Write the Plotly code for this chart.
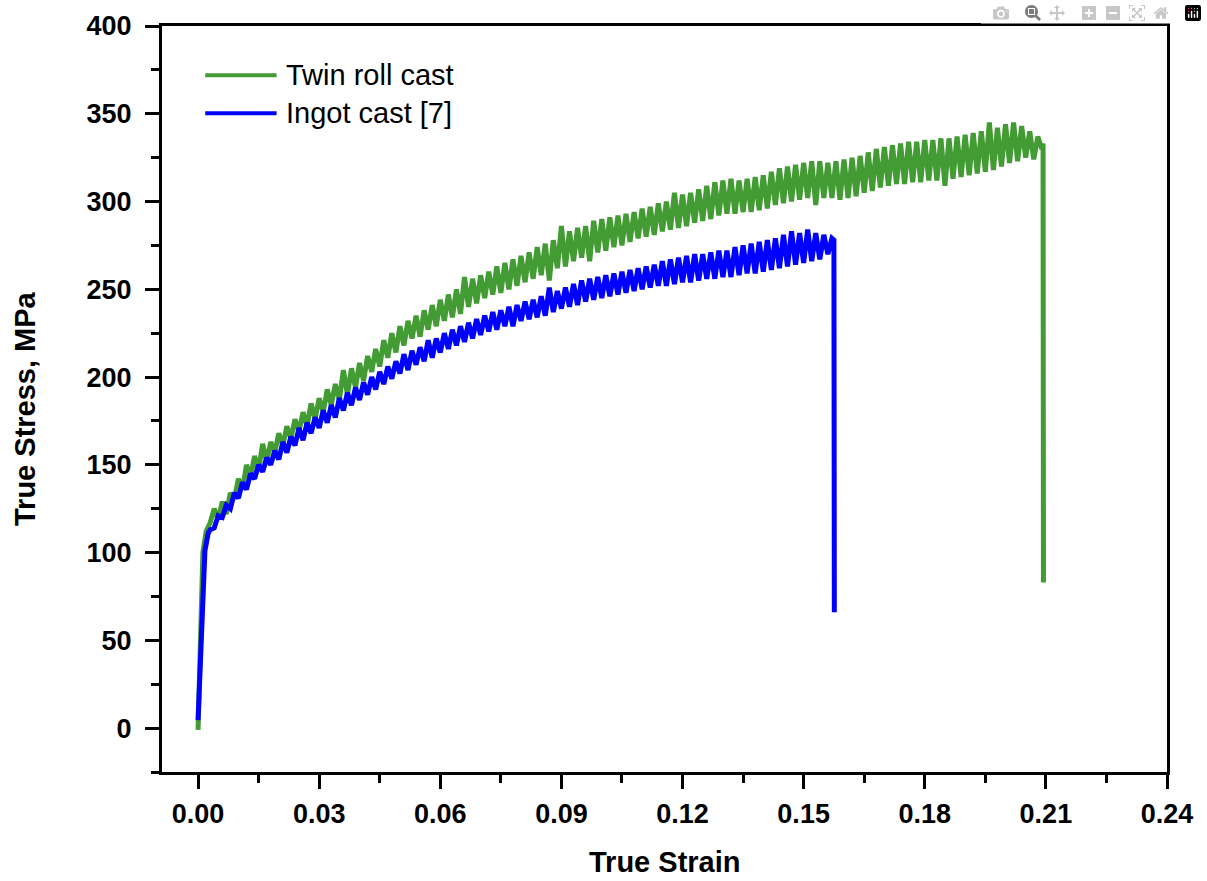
import plotly.graph_objects as go

# ---------------- data ----------------
twin_strain = [
    0.0, 0.0006, 0.0012, 0.002,
    0.003, 0.004, 0.005, 0.006, 0.007, 0.008, 0.009, 0.010, 0.011, 0.012,
    0.013, 0.014, 0.015, 0.016, 0.017, 0.018, 0.019, 0.020, 0.021, 0.022,
    0.023, 0.024, 0.025, 0.026, 0.027, 0.028, 0.029, 0.030, 0.031, 0.032,
    0.033, 0.034, 0.035, 0.036, 0.037, 0.038, 0.039, 0.040, 0.041, 0.042,
    0.043, 0.044, 0.045, 0.046, 0.047, 0.048, 0.049, 0.050, 0.051, 0.052,
    0.053, 0.054, 0.055, 0.056, 0.057, 0.058, 0.059, 0.060, 0.061, 0.062,
    0.063, 0.064, 0.065, 0.066, 0.067, 0.068, 0.069, 0.070, 0.071, 0.072,
    0.073, 0.074, 0.075, 0.076, 0.077, 0.078, 0.079, 0.080, 0.081, 0.082,
    0.083, 0.084, 0.085, 0.086, 0.087, 0.088, 0.089, 0.090, 0.091, 0.092,
    0.093, 0.094, 0.095, 0.096, 0.097, 0.098, 0.099, 0.100, 0.101, 0.102,
    0.103, 0.104, 0.105, 0.106, 0.107, 0.108, 0.109, 0.110, 0.111, 0.112,
    0.113, 0.114, 0.115, 0.116, 0.117, 0.118, 0.119, 0.120, 0.121, 0.122,
    0.123, 0.124, 0.125, 0.126, 0.127, 0.128, 0.129, 0.130, 0.131, 0.132,
    0.133, 0.134, 0.135, 0.136, 0.137, 0.138, 0.139, 0.140, 0.141, 0.142,
    0.143, 0.144, 0.145, 0.146, 0.147, 0.148, 0.149, 0.150, 0.151, 0.152,
    0.153, 0.154, 0.155, 0.156, 0.157, 0.158, 0.159, 0.160, 0.161, 0.162,
    0.163, 0.164, 0.165, 0.166, 0.167, 0.168, 0.169, 0.170, 0.171, 0.172,
    0.173, 0.174, 0.175, 0.176, 0.177, 0.178, 0.179, 0.180, 0.181, 0.182,
    0.183, 0.184, 0.185, 0.186, 0.187, 0.188, 0.189, 0.190, 0.191, 0.192,
    0.193, 0.194, 0.195, 0.196, 0.197, 0.198, 0.199, 0.200, 0.201, 0.202,
    0.203, 0.204, 0.205, 0.206, 0.207, 0.208, 0.209,
    0.2093, 0.2094,
]
twin_stress = [
    -1, 50, 100, 112,
    117, 125, 119, 129, 122, 134, 131, 142, 136, 150,
    143, 155, 147, 162, 152, 163, 157, 168, 161, 172,
    165, 176, 169, 180, 172, 185, 176, 188, 180, 193,
    184, 196, 187, 204, 190, 205, 194, 208, 198, 212,
    203, 216, 206, 221, 211, 225, 214, 229, 218, 232,
    222, 235, 223, 238, 227, 241, 229, 244, 232, 247,
    234, 250, 236, 257, 240, 256, 242, 258, 245, 260,
    247, 263, 248, 265, 250, 267, 252, 269, 254, 271,
    256, 274, 258, 276, 255, 278, 262, 286, 263, 283,
    266, 285, 268, 286, 266, 289, 271, 290, 272, 291,
    274, 292, 275, 293, 277, 294, 279, 296, 280, 297,
    281, 299, 283, 300, 284, 305, 285, 304, 286, 305,
    288, 307, 289, 309, 290, 311, 292, 312, 293, 313,
    293, 312, 294, 313, 294, 314, 295, 315, 296, 317,
    298, 319, 299, 320, 300, 321, 301, 322, 302, 323,
    298, 323, 302, 322, 302, 323, 301, 324, 302, 325,
    303, 326, 305, 328, 306, 330, 308, 331, 309, 332,
    310, 333, 310, 334, 311, 334, 311, 335, 312, 335,
    312, 336, 309, 336, 313, 337, 314, 338, 315, 339,
    316, 340, 317, 345, 318, 342, 320, 344, 322, 345,
    323, 343, 325, 340, 324, 337, 330,
    333, 83,
]

ingot_strain = [
    0.0, 0.001, 0.0017, 0.0025,
    0.003, 0.004, 0.005, 0.006, 0.007, 0.008, 0.009, 0.010, 0.011, 0.012,
    0.013, 0.014, 0.015, 0.016, 0.017, 0.018, 0.019, 0.020, 0.021, 0.022,
    0.023, 0.024, 0.025, 0.026, 0.027, 0.028, 0.029, 0.030, 0.031, 0.032,
    0.033, 0.034, 0.035, 0.036, 0.037, 0.038, 0.039, 0.040, 0.041, 0.042,
    0.043, 0.044, 0.045, 0.046, 0.047, 0.048, 0.049, 0.050, 0.051, 0.052,
    0.053, 0.054, 0.055, 0.056, 0.057, 0.058, 0.059, 0.060, 0.061, 0.062,
    0.063, 0.064, 0.065, 0.066, 0.067, 0.068, 0.069, 0.070, 0.071, 0.072,
    0.073, 0.074, 0.075, 0.076, 0.077, 0.078, 0.079, 0.080, 0.081, 0.082,
    0.083, 0.084, 0.085, 0.086, 0.087, 0.088, 0.089, 0.090, 0.091, 0.092,
    0.093, 0.094, 0.095, 0.096, 0.097, 0.098, 0.099, 0.100, 0.101, 0.102,
    0.103, 0.104, 0.105, 0.106, 0.107, 0.108, 0.109, 0.110, 0.111, 0.112,
    0.113, 0.114, 0.115, 0.116, 0.117, 0.118, 0.119, 0.120, 0.121, 0.122,
    0.123, 0.124, 0.125, 0.126, 0.127, 0.128, 0.129, 0.130, 0.131, 0.132,
    0.133, 0.134, 0.135, 0.136, 0.137, 0.138, 0.139, 0.140, 0.141, 0.142,
    0.143, 0.144, 0.145, 0.146, 0.147, 0.148, 0.149, 0.150, 0.151, 0.152,
    0.153, 0.154, 0.155, 0.156, 0.157,
    0.1575, 0.1576,
]
ingot_stress = [
    4.5, 63, 101, 111,
    113, 114, 121, 120, 127, 125, 134, 131, 140, 136,
    145, 142, 150, 146, 154, 150, 158, 153, 163, 157,
    166, 161, 171, 164, 174, 168, 177, 171, 181, 174,
    184, 177, 188, 181, 191, 184, 194, 187, 197, 190,
    200, 193, 203, 196, 206, 199, 209, 202, 213, 204,
    215, 207, 217, 209, 221, 211, 222, 214, 225, 216,
    227, 218, 229, 220, 231, 222, 233, 224, 235, 226,
    237, 227, 238, 229, 240, 229, 241, 232, 243, 233,
    244, 234, 246, 235, 251, 237, 249, 239, 251, 240,
    253, 241, 255, 243, 256, 244, 257, 245, 258, 246,
    259, 247, 260, 248, 261, 249, 262, 250, 263, 251,
    264, 252, 266, 252, 267, 253, 268, 254, 269, 254,
    270, 255, 270, 256, 271, 256, 272, 257, 272, 257,
    274, 258, 275, 259, 276, 259, 277, 260, 278, 261,
    279, 262, 281, 263, 283, 264, 282, 265, 284, 266,
    282, 267, 281, 270, 279,
    278, 66,
]

series_names = ["Twin roll cast", "Ingot cast [7]"]
x_title = "True Strain"
y_title = "True Stress, MPa"

x_tick_vals = [0.00, 0.03, 0.06, 0.09, 0.12, 0.15, 0.18, 0.21, 0.24]
x_tick_text = ["0.00", "0.03", "0.06", "0.09", "0.12", "0.15", "0.18", "0.21", "0.24"]
x_minor_vals = [0.015, 0.045, 0.075, 0.105, 0.135, 0.165, 0.195, 0.225]
y_tick_vals = [0, 50, 100, 150, 200, 250, 300, 350, 400]
y_tick_text = ["0", "50", "100", "150", "200", "250", "300", "350", "400"]
y_minor_vals = [-25, 25, 75, 125, 175, 225, 275, 325, 375]

# ---------------- style ----------------
GREEN = "#439B34"
BLUE = "#0000FF"
FONT = "Liberation Sans, Arial, sans-serif"

fig = go.Figure()
fig.add_trace(go.Scatter(x=twin_strain, y=twin_stress, mode="lines",
                         name=series_names[0],
                         line=dict(color=GREEN, width=5)))
fig.add_trace(go.Scatter(x=ingot_strain, y=ingot_stress, mode="lines",
                         name=series_names[1],
                         line=dict(color=BLUE, width=5)))

axis_common = dict(
    showline=True, linewidth=3, linecolor="black", mirror=True,
    showgrid=False, zeroline=False, automargin=False,
    ticks="outside", ticklen=14, tickwidth=3, tickcolor="black",
    tickfont=dict(family=FONT, size=27, color="black", weight="bold"),
)

fig.update_xaxes(
    range=[-0.00893, 0.24], tickmode="array",
    tickvals=x_tick_vals, ticktext=x_tick_text,
    ticklabelstandoff=2,
    minor=dict(tickmode="array", tickvals=x_minor_vals, ticks="outside",
               ticklen=8, tickwidth=3, tickcolor="black"),
    **axis_common,
)
fig.update_yaxes(
    range=[-25, 400], tickmode="array",
    tickvals=y_tick_vals, ticktext=y_tick_text,
    ticklabelstandoff=8,
    minor=dict(tickmode="array", tickvals=y_minor_vals, ticks="outside",
               ticklen=8, tickwidth=3, tickcolor="black"),
    **axis_common,
)

title_font = dict(family=FONT, size=29, color="black", weight="bold")
fig.add_annotation(xref="paper", yref="paper", x=0.5, y=-0.121,
                   xanchor="center", yanchor="middle", showarrow=False,
                   text=x_title, font=title_font)
fig.add_annotation(xref="paper", yref="paper", x=-0.1363, y=0.4866,
                   xanchor="center", yanchor="middle", showarrow=False,
                   textangle=-90, text=y_title, font=title_font)

# legend drawn in paper coordinates
legend_rows = [(0.934, GREEN, series_names[0]), (0.883, BLUE, series_names[1])]
for yy, col, label in legend_rows:
    fig.add_shape(type="line", xref="paper", yref="paper",
                  x0=0.043, x1=0.114, y0=yy, y1=yy,
                  line=dict(color=col, width=4))
    fig.add_annotation(xref="paper", yref="paper", x=0.121, y=yy,
                       xanchor="left", yanchor="middle", showarrow=False,
                       text=label, font=dict(family=FONT, size=29, color="black"))

fig.update_layout(
    width=1207, height=881,
    margin=dict(l=162, r=40, t=26, b=109),
    plot_bgcolor="white", paper_bgcolor="white",
    showlegend=False,
    font=dict(family=FONT, color="black"),
)

fig.write_html("out.html", post_script="document.body.style.margin='0';")
